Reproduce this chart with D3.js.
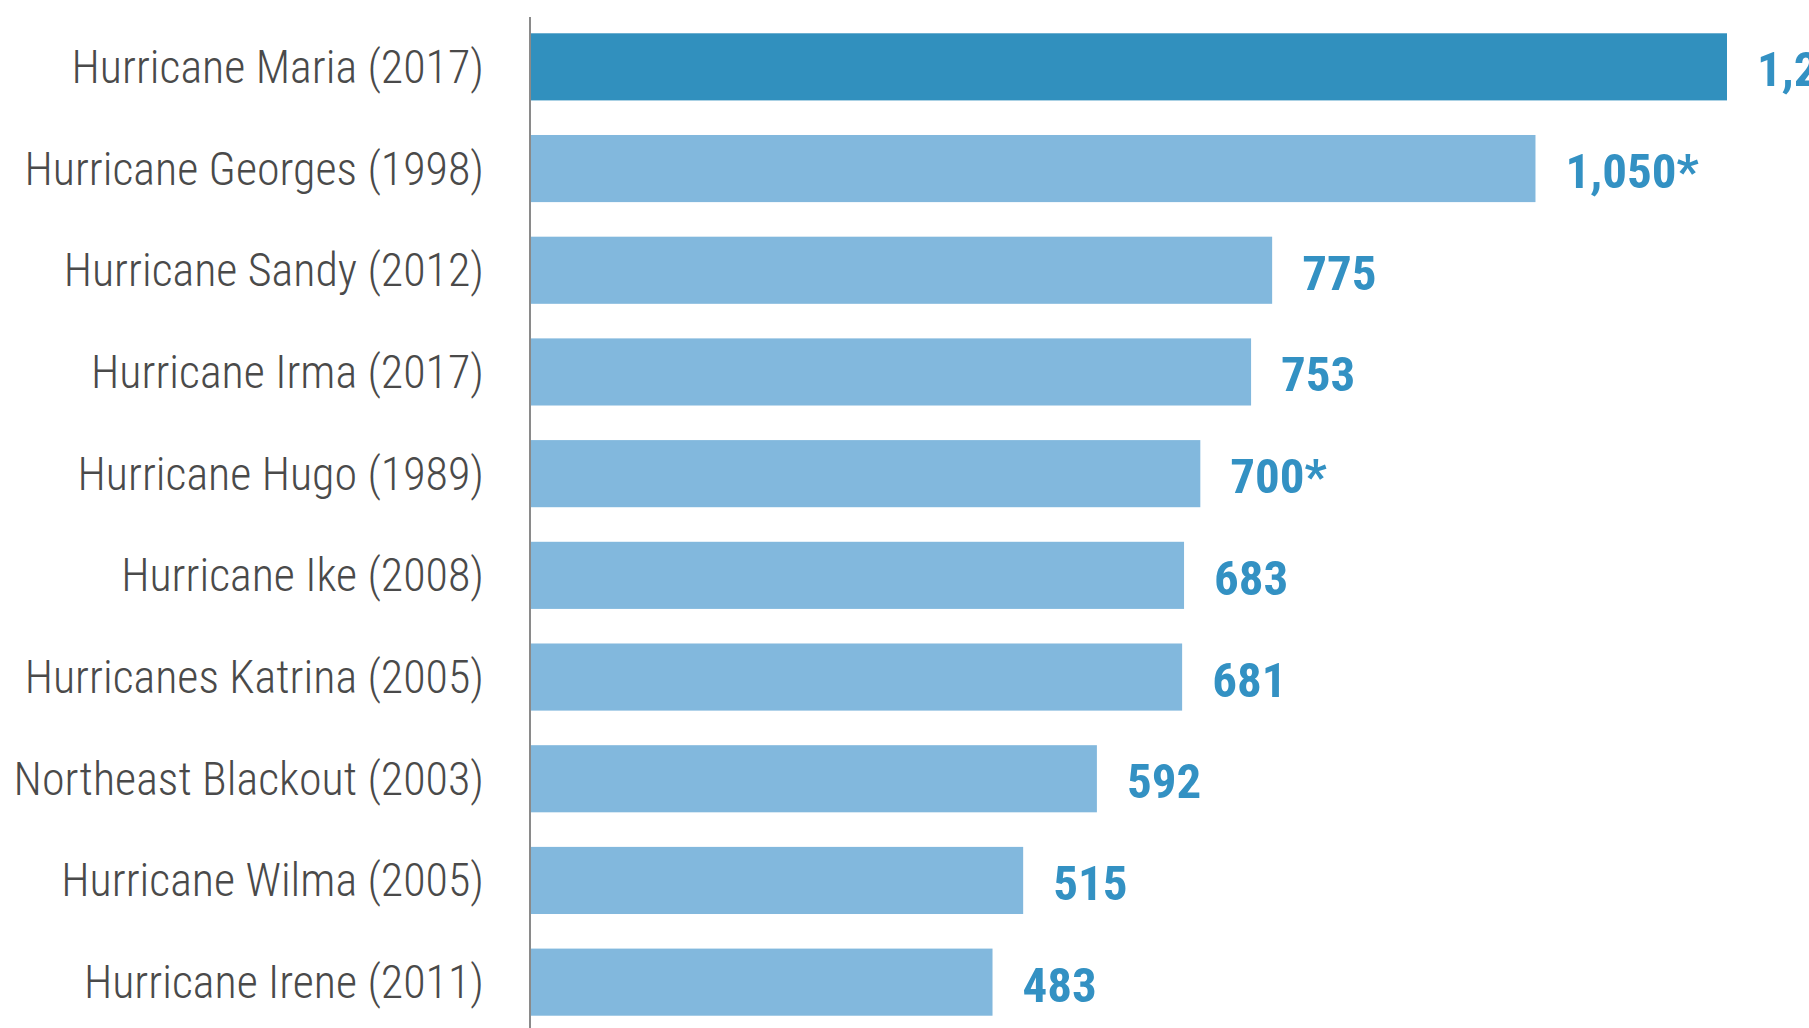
<!DOCTYPE html>
<html>
<head>
<meta charset="utf-8">
<script src="https://cdn.jsdelivr.net/npm/d3@7"></script>
<style>
  html, body { margin: 0; padding: 0; background: #ffffff; }
  svg { display: block; }
</style>
</head>
<body>
<svg id="chart" width="1809" height="1028"></svg>
<script>
const categories = [
  "Hurricane Maria (2017)",
  "Hurricane Georges (1998)",
  "Hurricane Sandy (2012)",
  "Hurricane Irma (2017)",
  "Hurricane Hugo (1989)",
  "Hurricane Ike (2008)",
  "Hurricanes Katrina (2005)",
  "Northeast Blackout (2003)",
  "Hurricane Wilma (2005)",
  "Hurricane Irene (2011)"
];
const values = [1250, 1050, 775, 753, 700, 683, 681, 592, 515, 483];
const valueLabels = ["1,250", "1,050*", "775", "753", "700*", "683", "681", "592", "515", "483"];
const highlighted = ["Hurricane Maria (2017)"];

const data = categories.map((c, i) => ({ name: c, value: values[i], label: valueLabels[i] }));

const svg = d3.select("#chart");
const axisX = 530;

const x = d3.scaleLinear().domain([0, d3.max(values)]).range([axisX, 1727]);
const y = d3.scaleBand().domain(categories).range([16, 1033]).paddingInner(0.34).paddingOuter(0.17);

svg.selectAll("rect.bar")
  .data(data)
  .enter().append("rect")
  .attr("class", "bar")
  .attr("x", x(0))
  .attr("y", d => y(d.name))
  .attr("width", d => x(d.value) - x(0))
  .attr("height", y.bandwidth())
  .attr("fill", d => highlighted.includes(d.name) ? "#3190be" : "#82b8dd");

// vertical axis line
svg.append("line")
  .attr("x1", axisX).attr("x2", axisX)
  .attr("y1", 17).attr("y2", 1028)
  .attr("stroke", "#8a8a8a")
  .attr("stroke-width", 2);

// category labels
svg.selectAll("text.cat")
  .data(data)
  .enter().append("text")
  .attr("class", "cat")
  .attr("x", axisX - 46)
  .attr("y", d => y(d.name) + y.bandwidth() / 2)
  .attr("text-anchor", "end")
  .attr("dominant-baseline", "central")
  .attr("font-family", "'Roboto Condensed', 'Liberation Sans Narrow', 'DejaVu Sans Condensed', sans-serif")
  .attr("font-weight", 300)
  .attr("font-size", 46)
  .attr("fill", "#4a4a4a")
  .text(d => d.name);

// value labels
svg.selectAll("text.val")
  .data(data)
  .enter().append("text")
  .attr("class", "val")
  .attr("x", d => x(d.value) + 30)
  .attr("y", d => y(d.name) + y.bandwidth() / 2 + 3)
  .attr("dominant-baseline", "central")
  .attr("font-family", "'Roboto Condensed', 'Liberation Sans Narrow', 'DejaVu Sans Condensed', sans-serif")
  .attr("font-weight", "bold")
  .attr("font-size", 49)
  .attr("fill", "#3391c3")
  .text(d => d.label);
</script>
</body>
</html>
